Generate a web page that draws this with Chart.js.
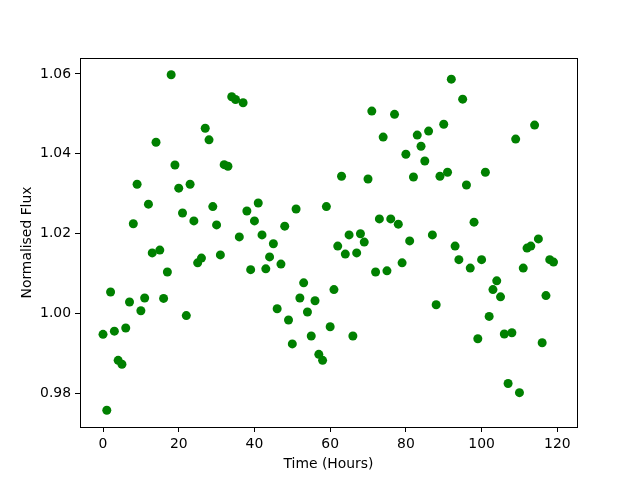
<!DOCTYPE html>
<html>
<head>
<meta charset="utf-8">
<script src="https://cdn.jsdelivr.net/npm/chart.js@4"></script>
<style>
  html, body { margin: 0; padding: 0; background: #fff; }
  #wrap { width: 640px; height: 480px; }
</style>
</head>
<body>
<div id="wrap"><canvas id="fluxChart" width="640" height="480"></canvas></div>
<script>
// time in hours, one reading per hour
const hours = [];
for (let h = 0; h < 120; h++) hours.push(h);

// normalised flux
const flux = [
  0.9948, 0.9758, 1.0054, 0.9956, 0.9883, 0.9873, 0.9964, 1.0029, 1.0225, 1.0324,
  1.0007, 1.0039, 1.0274, 1.0152, 1.0429, 1.0159, 1.0038, 1.0104, 1.0598, 1.0372,
  1.0314, 1.0252, 0.9995, 1.0324, 1.0232, 1.0127, 1.0139, 1.0464, 1.0435, 1.0268,
  1.0222, 1.0147, 1.0373, 1.0369, 1.0543, 1.0536, 1.0192, 1.0528, 1.0257, 1.0110,
  1.0232, 1.0277, 1.0197, 1.0112, 1.0142, 1.0175, 1.0012, 1.0124, 1.0219, 0.9984,
  0.9924, 1.0262, 1.0039, 1.0077, 1.0004, 0.9944, 1.0032, 0.9898, 0.9883, 1.0268,
  0.9967, 1.0060, 1.0169, 1.0344, 1.0149, 1.0197, 0.9944, 1.0152, 1.0200, 1.0179,
  1.0337, 1.0507, 1.0104, 1.0237, 1.0442, 1.0107, 1.0237, 1.0499, 1.0224, 1.0127,
  1.0399, 1.0182, 1.0342, 1.0447, 1.0419, 1.0382, 1.0457, 1.0197, 1.0022, 1.0344,
  1.0474, 1.0354, 1.0587, 1.0169, 1.0135, 1.0537, 1.0322, 1.0114, 1.0229, 0.9937,
  1.0135, 1.0354, 0.9993, 1.0060, 1.0082, 1.0042, 0.9949, 0.9825, 0.9952, 1.0437,
  0.9802, 1.0114, 1.0164, 1.0169, 1.0472, 1.0187, 0.9927, 1.0045, 1.0135, 1.0129
];

const xTicks = [0, 20, 40, 60, 80, 100, 120];
const yTicks = [0.98, 1.00, 1.02, 1.04, 1.06];

// axis limits as seen on the picture
const xRange = [-6.08, 125.2];
const yRange = [0.9716, 1.0640];

const points = hours.map((h, i) => ({ x: h, y: flux[i] }));

const FONT = "'DejaVu Sans', sans-serif";

// box around the plot area
const frame = {
  id: "frame",
  afterDraw(chart) {
    const { ctx, chartArea: a } = chart;
    ctx.save();
    ctx.strokeStyle = "#000";
    ctx.lineWidth = 1;
    ctx.strokeRect(Math.round(a.left) + 0.5, Math.round(a.top) + 0.5,
      Math.round(a.right - a.left), Math.round(a.bottom - a.top));
    ctx.restore();
  },
};

const ctx = document.getElementById("fluxChart").getContext("2d");
const chart = new Chart(ctx, {
  type: "scatter",
  data: {
    datasets: [
      {
        data: points,
        backgroundColor: "#008000",
        borderColor: "#008000",
        pointRadius: 4.5,
        pointHoverRadius: 4.5,
        borderWidth: 0,
      },
    ],
  },
  options: {
    responsive: false,
    animation: false,
    events: [],
    layout: { padding: { top: 58, right: 63, left: 0, bottom: 0 } },
    plugins: {
      legend: { display: false },
      tooltip: { enabled: false },
    },
    scales: {
      x: {
        type: "linear",
        min: xRange[0],
        max: xRange[1],
        afterFit: (s) => { s.height = 53; },
        afterBuildTicks: (s) => { s.ticks = xTicks.map((v) => ({ value: v })); },
        grid: { drawOnChartArea: false, drawTicks: true, tickLength: 5, color: "#000", tickWidth: 1 },
        border: { display: false },
        ticks: { color: "#000", padding: 4, font: { family: FONT, size: 13.9 }, maxRotation: 0, autoSkip: false },
        title: { display: true, text: "Time (Hours)", color: "#000", font: { family: FONT, size: 13.9 }, padding: { top: 0, bottom: 7 } },
      },
      y: {
        type: "linear",
        min: yRange[0],
        max: yRange[1],
        afterFit: (s) => { s.width = 80; },
        afterBuildTicks: (s) => { s.ticks = yTicks.map((v) => ({ value: v })); },
        grid: { drawOnChartArea: false, drawTicks: true, tickLength: 5, color: "#000", tickWidth: 1 },
        border: { display: false },
        ticks: { color: "#000", padding: 4, font: { family: FONT, size: 13.9 }, autoSkip: false,
          callback: (v) => Number(v).toFixed(2) },
        title: { display: true, text: "Normalised Flux", color: "#000", font: { family: FONT, size: 13.9 }, padding: { top: 19, bottom: 0 } },
      },
    },
  },
  plugins: [frame],
});
</script>
</body>
</html>
